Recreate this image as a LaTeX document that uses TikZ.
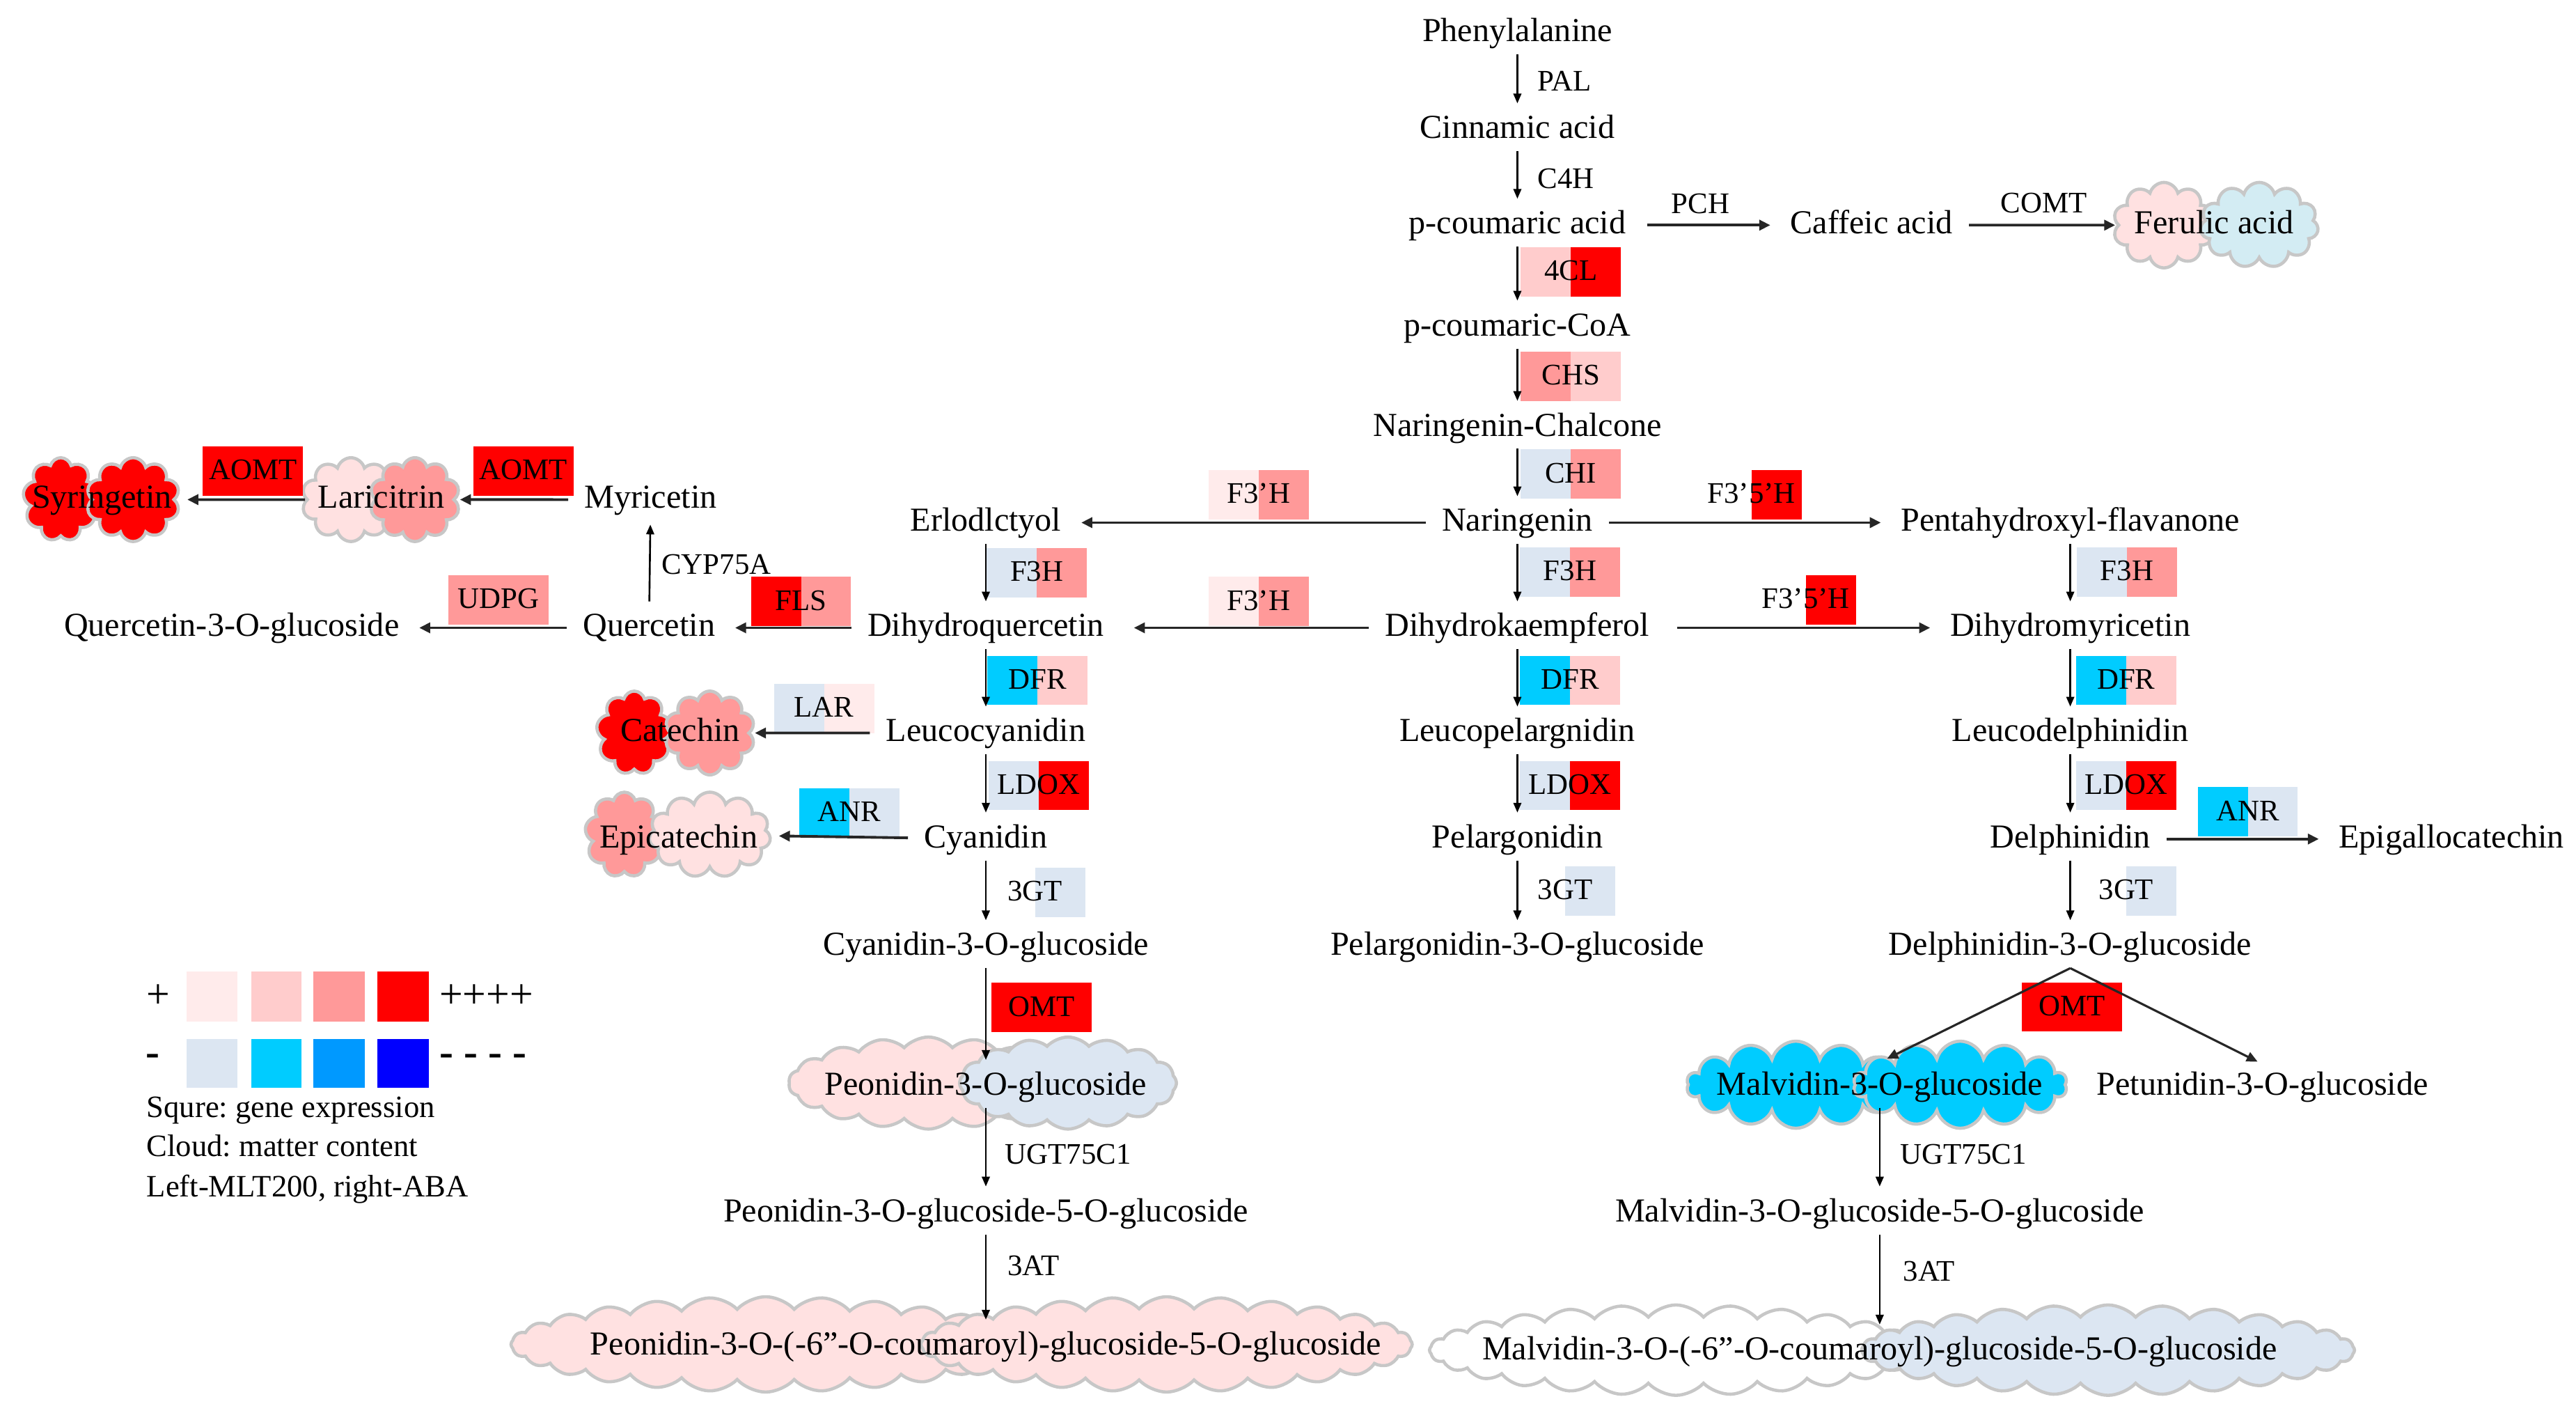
\documentclass[tikz,border=0pt]{standalone}
\usepackage{fontspec}
\setmainfont{Liberation Serif}
\frenchspacing
\usetikzlibrary{arrows.meta,shapes.symbols}
\definecolor{pinka}{HTML}{FFEBEB}
\definecolor{pinkb}{HTML}{FFCCCC}
\definecolor{pinkc}{HTML}{FF9999}
\definecolor{reda}{HTML}{FF0000}
\definecolor{bluea}{HTML}{DCE6F2}
\definecolor{blueb}{HTML}{00CCFF}
\definecolor{bluec}{HTML}{0099FF}
\definecolor{blued}{HTML}{0000FF}
\definecolor{cloudpink}{HTML}{FFE1E1}
\definecolor{cloudblue}{HTML}{D3ECF3}
\def\pxu{0.0236cm}
\def\genebox(#1)(#2,#3)#4#5#6{%
  \fill[#4] (#2-30.5,#3-15) rectangle (#2,#3+15);
  \fill[#5] (#2,#3-15) rectangle (#2+30.5,#3+15);
  \node[enz] (#1) at (#2,#3) {#6};}
\def\lobe(#1)(#2,#3)#4#5#6#7{\node[lobe, #4, minimum width=#5*\pxu, minimum height=#6*\pxu, cloud puffs=#7] (#1) at (#2,#3) {};}
\tikzset{
  cpd/.style={font=\fontsize{13.7}{16}\selectfont, inner sep=0pt, text height=1.77ex, text depth=0.23ex},
  enz/.style={font=\fontsize{12.2}{14}\selectfont, inner sep=0pt, text height=1.77ex, text depth=0.23ex},
  note/.style={font=\fontsize{12.7}{15}\selectfont, inner sep=0pt, anchor=west, text height=1.77ex, text depth=0.23ex},
  sign/.style={font=\fontsize{17}{19}\selectfont, inner sep=0pt},
  lobe/.style={cloud, cloud ignores aspect, draw=black!22, line width=1.3pt, inner sep=0pt},
  flat/.style={cloud puff arc=95},
  varr/.style={line width=0.75pt, -{Triangle[length=4pt,width=3.2pt]}, shorten <=4pt, shorten >=6pt},
  harr/.style={line width=1.1pt, black!85, -{Triangle[length=4.5pt,width=4.2pt]}, shorten <=6.5pt, shorten >=8pt},
  farr/.style={line width=0.9pt, black!85, -{Triangle[length=4.5pt,width=4pt]}}
}

\begin{document}
\begin{tikzpicture}[x=0.0236cm, y=-0.0236cm]
  %%%%% START %%%%%
  \useasboundingbox (0,0) rectangle (1567.8,859.7);

  % clouds: matter content
  \lobe(fer-l)(1317,137){fill=cloudpink}{62}{52}{10}
  \lobe(fer-r)(1375,137){fill=cloudblue}{72}{52}{11}
  \lobe(syr-l)(37,304){fill=reda}{46}{51}{9}
  \lobe(syr-r)(81,304){fill=reda}{57}{51}{10}
  \lobe(lar-l)(213.6,304){fill=cloudpink}{60}{51}{10}
  \lobe(lar-r)(252.5,304){fill=pinkc}{55}{51}{10}
  \lobe(cat-l)(386,446){fill=reda}{46}{51}{9}
  \lobe(cat-r)(432,446){fill=pinkc}{55}{51}{10}
  \lobe(epi-l)(380,508){fill=pinkc}{48}{52}{9}
  \lobe(epi-r)(432,508){fill=cloudpink}{74}{52}{11}
  \lobe(peo-l)(565,659){fill=cloudpink, flat}{170}{56}{18}
  \lobe(peo-r)(650,659){fill=bluea, flat}{132}{56}{16}
  \lobe(mal-l)(1093,660){fill=blueb}{133}{53}{14}
  \lobe(mal-r)(1193,660){fill=blueb}{130}{53}{14}
  \lobe(peoc-l)(466,818){fill=cloudpink, flat}{310}{58}{28}
  \lobe(peoc-r)(710,818){fill=cloudpink, flat}{299}{58}{28}
  \lobe(malc-l)(1020,821.5){fill=white, flat}{300}{55}{28}
  \lobe(malc-r)(1283,821.5){fill=bluea, flat}{300}{55}{28}

  % squares: gene expression
  \genebox(g4cl)(956,165.5){pinkb}{reda}{4CL}
  \genebox(gchs)(956,229){pinkc}{pinkb}{CHS}
  \genebox(gchi)(956,288.5){bluea}{pinkc}{CHI}
  \genebox(gfh-a)(766,301){pinka}{pinkc}{F3’H}
  \genebox(gffh-a)(1066,301){white}{reda}{F3’5’H}
  \genebox(gf3h-l)(631,348.5){bluea}{pinkc}{F3H}
  \genebox(gf3h-c)(955.5,348){bluea}{pinkc}{F3H}
  \genebox(gf3h-r)(1294.5,348){bluea}{pinkc}{F3H}
  \genebox(gfh-b)(766,366){pinka}{pinkc}{F3’H}
  \genebox(gffh-b)(1099,365){white}{reda}{F3’5’H}
  \genebox(gfls)(487.5,366){reda}{pinkc}{FLS}
  \genebox(gudpg)(303.5,365){pinkc}{pinkc}{UDPG}
  \genebox(gaomt-a)(318.5,286.5){reda}{reda}{AOMT}
  \genebox(gaomt-b)(154,286.5){reda}{reda}{AOMT}
  \genebox(gdfr-l)(631.5,414){blueb}{pinkb}{DFR}
  \genebox(gdfr-c)(955.5,414){blueb}{pinkb}{DFR}
  \genebox(gdfr-r)(1294,414){blueb}{pinkb}{DFR}
  \genebox(glar)(501.5,431){bluea}{pinka}{LAR}
  \genebox(gldox-l)(632,478){bluea}{reda}{LDOX}
  \genebox(gldox-c)(955.5,478){bluea}{reda}{LDOX}
  \genebox(gldox-r)(1294,478){bluea}{reda}{LDOX}
  \genebox(ganr-l)(517,494.5){blueb}{bluea}{ANR}
  \genebox(ganr-r)(1368,494){blueb}{bluea}{ANR}
  \genebox(g3gt-l)(630,543){white}{bluea}{3GT}
  \genebox(g3gt-c)(952.5,542){white}{bluea}{3GT}
  \genebox(g3gt-r)(1294,542){white}{bluea}{3GT}
  \genebox(gomt-l)(634,613){reda}{reda}{OMT}
  \genebox(gomt-r)(1261,612.7){reda}{reda}{OMT}

  % compounds
  \node[cpd] (phe) at (923.5,20) {Phenylalanine};
  \node[cpd] (cin) at (923.5,79) {Cinnamic acid};
  \node[cpd] (pca) at (923.5,137) {p-coumaric acid};
  \node[cpd] (caf) at (1139,137) {Caffeic acid};
  \node[cpd] (fer) at (1347.5,137) {Ferulic acid};
  \node[cpd] (coa) at (923.5,199) {p-coumaric-CoA};
  \node[cpd] (chal) at (923.5,260) {Naringenin-Chalcone};
  \node[cpd] (nar) at (923.5,318) {Naringenin};
  \node[cpd] (erl) at (600,318) {Erlodlctyol};
  \node[cpd] (pent) at (1260,318) {Pentahydroxyl-flavanone};
  \node[cpd] (dhk) at (923.5,382) {Dihydrokaempferol};
  \node[cpd] (dhq) at (600,382) {Dihydroquercetin};
  \node[cpd] (dhm) at (1260,382) {Dihydromyricetin};
  \node[cpd] (que) at (395,382) {Quercetin};
  \node[cpd] (q3g) at (141,382) {Quercetin-3-O-glucoside};
  \node[cpd] (myr) at (396,304) {Myricetin};
  \node[cpd] (lar) at (232,304) {Laricitrin};
  \node[cpd] (syr) at (62,304) {Syringetin};
  \node[cpd] (lcy) at (600,446) {Leucocyanidin};
  \node[cpd] (cat) at (414,446) {Catechin};
  \node[cpd] (lpe) at (923.5,446) {Leucopelargnidin};
  \node[cpd] (ldl) at (1260,446) {Leucodelphinidin};
  \node[cpd] (cya) at (600,510.5) {Cyanidin};
  \node[cpd] (epi) at (413,510.5) {Epicatechin};
  \node[cpd] (pel) at (923.5,510.5) {Pelargonidin};
  \node[cpd] (del) at (1260,510.5) {Delphinidin};
  \node[cpd] (egc) at (1492,510.5) {Epigallocatechin};
  \node[cpd] (c3g) at (600,576) {Cyanidin-3-O-glucoside};
  \node[cpd] (p3g) at (923.5,576) {Pelargonidin-3-O-glucoside};
  \node[cpd] (d3g) at (1260,576) {Delphinidin-3-O-glucoside};
  \node[cpd] (peo) at (600,661) {Peonidin-3-O-glucoside};
  \node[cpd] (mal) at (1144,661) {Malvidin-3-O-glucoside};
  \node[cpd] (pet) at (1377,661) {Petunidin-3-O-glucoside};
  \node[cpd] (peo5) at (600,738) {Peonidin-3-O-glucoside-5-O-glucoside};
  \node[cpd] (mal5) at (1144,738) {Malvidin-3-O-glucoside-5-O-glucoside};
  \node[cpd] (peoc) at (600,819) {Peonidin-3-O-(-6”-O-coumaroyl)-glucoside-5-O-glucoside};
  \node[cpd] (malc) at (1144,822) {Malvidin-3-O-(-6”-O-coumaroyl)-glucoside-5-O-glucoside};

  % enzymes without square
  \node[enz] (pal) at (952,50) {PAL};
  \node[enz] (c4h) at (953,109.5) {C4H};
  \node[enz] (pch) at (1035,124.5) {PCH};
  \node[enz] (comt) at (1244,124) {COMT};
  \node[enz] (cyp) at (436,344) {CYP75A};
  \node[enz] (ugt-l) at (650,703) {UGT75C1};
  \node[enz] (ugt-r) at (1195,703) {UGT75C1};
  \node[enz] (at-l) at (629,771) {3AT};
  \node[enz] (at-r) at (1174,774) {3AT};

  % vertical steps
  \draw[varr] (phe) -- (cin);
  \draw[varr] (cin) -- (pca);
  \draw[varr] (pca) -- (coa);
  \draw[varr] (coa) -- (chal);
  \draw[varr] (chal) -- (nar);
  \draw[varr] (nar) -- (dhk);
  \draw[varr] (dhk) -- (lpe);
  \draw[varr] (lpe) -- (pel);
  \draw[varr] (pel) -- (p3g);
  \draw[varr] (erl) -- (dhq);
  \draw[varr] (dhq) -- (lcy);
  \draw[varr] (lcy) -- (cya);
  \draw[varr] (cya) -- (c3g);
  \draw[varr] (c3g) -- (peo);
  \draw[varr] (peo) -- (peo5);
  \draw[varr] (peo5) -- (peoc);
  \draw[varr] (pent) -- (dhm);
  \draw[varr] (dhm) -- (ldl);
  \draw[varr] (ldl) -- (del);
  \draw[varr] (del) -- (d3g);
  \draw[varr] (mal) -- (mal5);
  \draw[varr] (mal5) -- (malc);
  \draw[varr, shorten <=6pt, shorten >=5.4pt] (que) -- (myr);

  % horizontal steps
  \draw[harr, shorten <=8.5pt] (pca) -- (caf);
  \draw[harr, shorten >=0.5pt] (caf) -- (fer-l);
  \draw[harr] (nar) -- (erl);
  \draw[harr] (nar) -- (pent);
  \draw[harr, shorten >=12pt] (dhk) -- (dhq);
  \draw[harr, shorten <=11pt] (dhk) -- (dhm);
  \draw[harr] (dhq) -- (que);
  \draw[harr] (que) -- (q3g);
  \draw[harr, shorten >=1.5pt] (myr) -- (lar-r);
  \draw[harr, shorten <=0pt, shorten >=4.5pt] (lar-l) -- (syr-r);
  \draw[harr, shorten >=1.5pt] (lcy) -- (cat-r);
  \draw[harr, shorten >=3pt] (cya) -- (epi-r);
  \draw[harr] (del) -- (egc);

  % OMT fork
  \coordinate (fork) at ([yshift=-4pt]d3g.south);
  \draw[farr] (fork) -- ([xshift=3pt,yshift=6.5pt]mal.north);
  \draw[farr] (fork) -- ([xshift=-2pt,yshift=5.3pt]pet.north);

  % legend
  \fill[pinka] (113.6,591) rectangle (144.6,621.6);
  \fill[pinkb] (152.8,591) rectangle (183.3,621.6);
  \fill[pinkc] (190.6,591) rectangle (222,621.6);
  \fill[reda] (229.7,591) rectangle (261,621.6);
  \fill[bluea] (113.6,632) rectangle (144.6,662);
  \fill[blueb] (152.8,632) rectangle (183.3,662);
  \fill[bluec] (190.6,632) rectangle (222,662);
  \fill[blued] (229.7,632) rectangle (261,662);
  \node[sign] (up-a) at (96.5,606) {+};
  \node[sign] (up-d) at (296,606) {++++};
  \node[sign, font=\fontsize{17}{19}\selectfont\bfseries] (dn-a) at (93,645) {-};
  \node[sign, font=\fontsize{17}{19}\selectfont\bfseries] (dn-d) at (294,645) {- - - -};
  \node[note] (key-a) at (89,674.5) {Squre: gene expression};
  \node[note] (key-b) at (89,698.5) {Cloud: matter content};
  \node[note] (key-c) at (89,723) {Left-MLT200, right-ABA};

  %%%%% END %%%%%
\end{tikzpicture}
\end{document}
